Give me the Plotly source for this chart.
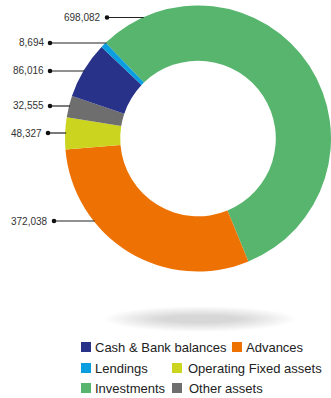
import math
import plotly.graph_objects as go

# Asset composition (values shown beside the ring)
categories = ["Investments", "Advances", "Operating Fixed assets",
              "Other assets", "Cash & Bank balances", "Lendings"]
values = [698082, 372038, 48327, 32555, 86016, 8694]
colors = ["#58B56E", "#EE7203", "#CBD51F", "#6E6E6E", "#283289", "#0A9EE0"]

# Legend arrangement: (category, row, swatch x, text gap)
legend_rows = [
    ("Cash & Bank balances", 0, 81, 3), ("Advances", 0, 232, 3),
    ("Lendings", 1, 81, 3), ("Operating Fixed assets", 1, 172, 5),
    ("Investments", 2, 81, 3), ("Other assets", 2, 172, 6),
]

W, H = 331, 398
FONT = "Liberation Sans, Arial, sans-serif"


def px(x):
    return x / W


def py(y):
    return 1 - y / H


# ring placement in pixels
dom_x = (65, W)
dom_y = (5, 272)
cx = (dom_x[0] + dom_x[1]) / 2
cy = (dom_y[0] + dom_y[1]) / 2
r = min(dom_x[1] - dom_x[0], dom_y[1] - dom_y[0]) / 2

fig = go.Figure(go.Pie(
    labels=categories,
    values=values,
    marker=dict(colors=colors, line=dict(width=0)),
    hole=0.585,
    sort=False,
    direction="clockwise",
    rotation=-44,
    textinfo="none",
    hoverinfo="label+value",
    showlegend=False,
    domain=dict(x=[px(dom_x[0]), px(dom_x[1])], y=[py(dom_y[1]), py(dom_y[0])]),
))

shapes = []
annotations = []

# soft shadow beneath the ring (stacked translucent ellipses)
layers = 20
for i in range(layers):
    t = i / (layers - 1)
    hw = 96 - 56 * t
    hh = 13 - 9 * t
    shapes.append(dict(type="circle", xref="paper", yref="paper",
                       x0=px(200 - hw), x1=px(200 + hw),
                       y0=py(319 + hh), y1=py(319 - hh),
                       fillcolor="rgba(0,0,0,0.0075)", line=dict(width=0),
                       layer="below"))

# value callouts: label text, dot, horizontal leader to the ring edge
callouts = [
    # (category, label y, dot x)
    ("Investments", 17.5, 107),
    ("Lendings", 43, 50),
    ("Cash & Bank balances", 71, 50),
    ("Other assets", 106, 50),
    ("Operating Fixed assets", 133, 48),
    ("Advances", 221, 54),
]
for cat, ly, dx in callouts:
    v = values[categories.index(cat)]
    edge_x = cx - math.sqrt(max(r * r - (ly - cy) ** 2, 0)) + 1
    shapes.append(dict(type="line", xref="paper", yref="paper",
                       x0=px(dx), x1=px(edge_x), y0=py(ly), y1=py(ly),
                       line=dict(color="#222222", width=1.2)))
    shapes.append(dict(type="circle", xref="paper", yref="paper",
                       x0=px(dx - 2.3), x1=px(dx + 2.3),
                       y0=py(ly + 2.3), y1=py(ly - 2.3),
                       fillcolor="#111111", line=dict(width=0)))
    annotations.append(dict(xref="paper", yref="paper", x=px(dx - 4), y=py(ly),
                            xanchor="right", yanchor="middle", showarrow=False,
                            text=f"{v:,}",
                            font=dict(family=FONT, size=10, color="#333333")))

# legend
row_y = [347, 368, 388]
for cat, row, x0, gap in legend_rows:
    col = colors[categories.index(cat)]
    yc = row_y[row]
    shapes.append(dict(type="rect", xref="paper", yref="paper",
                       x0=px(x0), x1=px(x0 + 10), y0=py(yc + 5), y1=py(yc - 5),
                       fillcolor=col, line=dict(width=0)))
    annotations.append(dict(xref="paper", yref="paper", x=px(x0 + 10 + gap - 1),
                            y=py(yc), xanchor="left", yanchor="middle",
                            showarrow=False, text=cat,
                            font=dict(family=FONT, size=13, color="#222222")))

fig.update_layout(
    width=W, height=H,
    margin=dict(l=0, r=0, t=0, b=0),
    paper_bgcolor="white",
    plot_bgcolor="white",
    shapes=shapes,
    annotations=annotations,
)

fig.write_html("out.html")
